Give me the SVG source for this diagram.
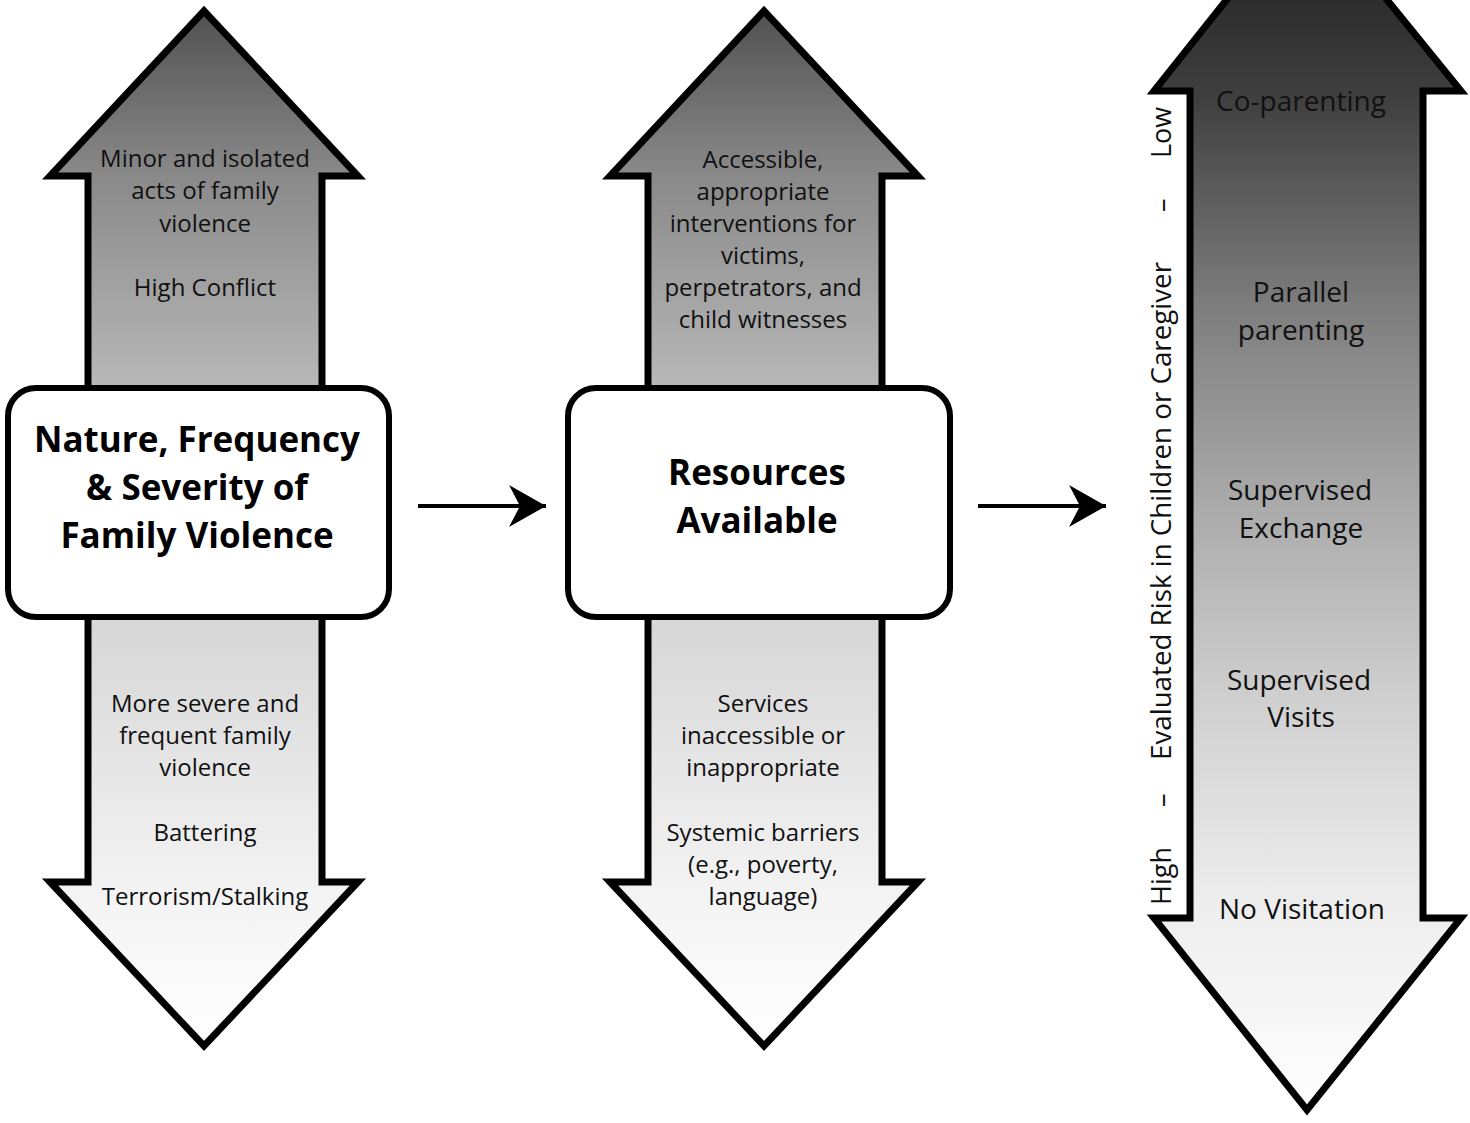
<svg xmlns="http://www.w3.org/2000/svg" width="1470" height="1123" viewBox="0 0 1470 1123">
<defs>
<linearGradient id="gDouble" gradientUnits="userSpaceOnUse" x1="0" y1="8" x2="0" y2="1050">
<stop offset="0" stop-color="#505050"/>
<stop offset="0.16" stop-color="#898989"/>
<stop offset="0.365" stop-color="#b8b8b8"/>
<stop offset="0.584" stop-color="#d6d6d6"/>
<stop offset="0.856" stop-color="#f4f4f4"/>
<stop offset="1" stop-color="#ffffff"/>
</linearGradient>
<linearGradient id="gRight" gradientUnits="userSpaceOnUse" x1="0" y1="-100" x2="0" y2="1115">
<stop offset="0" stop-color="#1a1a1a"/>
<stop offset="0.165" stop-color="#404040"/>
<stop offset="0.33" stop-color="#7c7c7c"/>
<stop offset="0.494" stop-color="#a9a9a9"/>
<stop offset="0.66" stop-color="#d0d0d0"/>
<stop offset="0.823" stop-color="#ededed"/>
<stop offset="1" stop-color="#ffffff"/>
</linearGradient>
<marker id="ah" markerUnits="userSpaceOnUse" markerWidth="40" markerHeight="44" viewBox="0 0 40 44" refX="37" refY="22" orient="auto">
<path d="M37,22 L0,1 L11,22 L0,43 Z" fill="#000"/>
</marker>
</defs>
<style>
.arrow{stroke:#000;stroke-width:7;stroke-linejoin:miter;stroke-miterlimit:10}
.box{fill:#fff;stroke:#000;stroke-width:6}
.t{font-family:"Open Sans","Liberation Sans",sans-serif;font-size:24px;fill:#111;text-anchor:middle}
.r{font-family:"Open Sans","Liberation Sans",sans-serif;font-size:28px;fill:#111;text-anchor:middle}
.h{font-family:"Open Sans","Liberation Sans",sans-serif;font-size:35px;font-weight:bold;fill:#000;text-anchor:middle}
.ax{font-family:"Open Sans","Liberation Sans",sans-serif;font-size:27px;fill:#111}
.conn{stroke:#000;stroke-width:4;fill:none}
</style>

<g id="node-violence">
<polygon class="arrow" fill="url(#gDouble)" points="204,11 358,176 322,176 322,882 358,882 204,1046 50,882 88,882 88,176 50,176"/>
<rect class="box" x="8" y="388" width="381" height="229" rx="28" ry="28"/>
<text class="h" x="197" y="452">Nature, Frequency</text>
<text class="h" x="197" y="500">&amp; Severity of</text>
<text class="h" x="197" y="548">Family Violence</text>
<text class="t" x="205" y="167">Minor and isolated</text>
<text class="t" x="205" y="199">acts of family</text>
<text class="t" x="205" y="232">violence</text>
<text class="t" x="205" y="296">High Conflict</text>
<text class="t" x="205" y="712">More severe and</text>
<text class="t" x="205" y="744">frequent family</text>
<text class="t" x="205" y="776">violence</text>
<text class="t" x="205" y="841">Battering</text>
<text class="t" x="205" y="905">Terrorism/Stalking</text>
</g>

<g id="node-resources">
<polygon class="arrow" fill="url(#gDouble)" points="764,11 918,176 882,176 882,882 918,882 764,1046 610,882 648,882 648,176 610,176"/>
<rect class="box" x="568" y="388" width="382" height="229" rx="28" ry="28"/>
<text class="h" x="757" y="485">Resources</text>
<text class="h" x="757" y="533">Available</text>
<text class="t" x="763" y="168">Accessible,</text>
<text class="t" x="763" y="200">appropriate</text>
<text class="t" x="763" y="232">interventions for</text>
<text class="t" x="763" y="264">victims,</text>
<text class="t" x="763" y="296">perpetrators, and</text>
<text class="t" x="763" y="328">child witnesses</text>
<text class="t" x="763" y="712">Services</text>
<text class="t" x="763" y="744">inaccessible or</text>
<text class="t" x="763" y="776">inappropriate</text>
<text class="t" x="763" y="841">Systemic barriers</text>
<text class="t" x="763" y="873">(e.g., poverty,</text>
<text class="t" x="763" y="905">language)</text>
</g>

<g id="node-visitation">
<polygon class="arrow" fill="url(#gRight)" points="1306,-100 1461,91 1423,91 1423,918 1461,918 1307,1110 1154,918 1190,918 1190,91 1154,91"/>
<text class="r" x="1301" y="111">Co-parenting</text>
<text class="r" x="1301" y="302">Parallel</text>
<text class="r" x="1301" y="340">parenting</text>
<text class="r" x="1300" y="500">Supervised</text>
<text class="r" x="1301" y="538">Exchange</text>
<text class="r" x="1299" y="690">Supervised</text>
<text class="r" x="1301" y="727">Visits</text>
<text class="r" x="1302" y="919">No Visitation</text>
</g>

<g id="axis-label">
<text class="ax" transform="translate(1171,905) rotate(-90)">High</text>
<text class="ax" transform="translate(1171,807) rotate(-90)">–</text>
<text class="ax" transform="translate(1171,760) rotate(-90)" textLength="498" lengthAdjust="spacingAndGlyphs">Evaluated Risk in Children or Caregiver</text>
<text class="ax" transform="translate(1171,212) rotate(-90)">–</text>
<text class="ax" transform="translate(1171,158) rotate(-90)">Low</text>
</g>

<g id="connectors">
<line class="conn" x1="418" y1="506" x2="546" y2="506" marker-end="url(#ah)"/>
<line class="conn" x1="978" y1="506" x2="1106" y2="506" marker-end="url(#ah)"/>
</g>
</svg>
